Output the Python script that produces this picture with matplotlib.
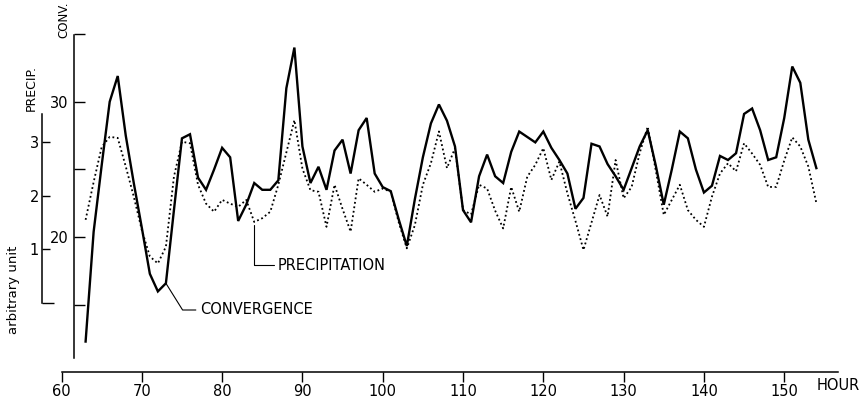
import matplotlib
matplotlib.use("Agg")
import matplotlib.pyplot as plt

# hourly series, hour 63 .. 154
hours = list(range(63, 155))

convergence = [
    12.3, 20.4, 25.3, 30.0, 31.9, 27.5, 24.0, 20.7, 17.3, 16.0,
    16.6, 22.0, 27.3, 27.6, 24.4, 23.5, 25.0, 26.6, 25.9, 21.2,
    22.4, 24.0, 23.5, 23.5, 24.2, 31.0, 34.0, 26.7, 24.0, 25.2,
    23.5, 26.4, 27.2, 24.7, 27.9, 28.8, 24.7, 23.7, 23.4, 21.3,
    19.35, 22.8, 25.9, 28.4, 29.8, 28.6, 26.7, 22.0, 21.1, 24.5,
    26.1, 24.5, 24.0, 26.3, 27.8, 27.4, 27.0, 27.8, 26.6, 25.7,
    24.7, 22.1, 22.9, 26.9, 26.7, 25.4, 24.5, 23.5, 25.1, 26.7,
    27.9, 25.3, 22.4, 25.0, 27.8, 27.3, 25.0, 23.3, 23.8, 26.0,
    25.7, 26.2, 29.1, 29.5, 27.9, 25.7, 25.9, 28.8, 32.6, 31.4,
    27.2, 25.1,
]

precipitation = [
    1.55, 2.25, 2.9, 3.09, 3.07, 2.54, 1.98, 1.36, 0.87, 0.74,
    1.05, 2.35, 3.0, 2.97, 2.2, 1.85, 1.70, 1.92, 1.85, 1.79,
    1.92, 1.51, 1.58, 1.70, 2.2, 2.8, 3.40, 2.5, 2.1, 2.07,
    1.42, 2.2, 1.75, 1.33, 2.32, 2.2, 2.07, 2.13, 2.07, 1.5,
    1.02, 1.45, 2.2, 2.6, 3.19, 2.51, 2.88, 1.73, 1.65, 2.2,
    2.13, 1.72, 1.39, 2.16, 1.70, 2.35, 2.57, 2.88, 2.29, 2.63,
    2.04, 1.53, 0.99, 1.5, 2.01, 1.61, 2.66, 1.95, 2.16, 2.79,
    3.28, 2.47, 1.64, 1.92, 2.20, 1.73, 1.55, 1.42, 1.98, 2.41,
    2.6, 2.45, 2.97, 2.78, 2.57, 2.16, 2.16, 2.65, 3.08, 2.91,
    2.54, 1.86,
]

hour_ticks = [60, 70, 80, 90, 100, 110, 120, 130, 140, 150]
conv_ticks = [15, 20, 25, 30, 35]
conv_labels = ["", "20", "", "30", ""]
precip_ticks = [1, 2, 3]
precip_labels = ["1", "2", "3"]

W, H = 861, 404

fig = plt.figure(figsize=(W / 100, H / 100), dpi=100)
fig.patch.set_facecolor("white")

# convergence axes, filling the whole canvas
ax = fig.add_axes([0, 0, 1, 1])
ax.set_xlim(52.34, 159.56)
ax.set_ylim(7.69, 37.51)
ax.patch.set_visible(False)

ax.plot(hours, convergence, color="black", lw=1.7, solid_joinstyle="miter")

for s in ["top", "right"]:
    ax.spines[s].set_visible(False)
ax.spines["left"].set_position(("data", 61.56))
ax.spines["left"].set_bounds(11.1, 34.9)
ax.spines["bottom"].set_position(("data", 10.07))
ax.spines["bottom"].set_bounds(60, 156.7)
for s in ["left", "bottom"]:
    ax.spines[s].set_linewidth(1.1)

ax.set_xticks(hour_ticks)
ax.set_xticklabels([str(h) for h in hour_ticks], fontsize=10.5)
ax.tick_params(axis="x", direction="out", length=7, width=1.0, pad=1.5)
ax.set_yticks(conv_ticks)
ax.set_yticklabels(conv_labels, fontsize=10.5)
ax.tick_params(axis="y", direction="in", length=8, width=1.0, pad=4)

# precipitation axes sharing the hour axis
ax2 = ax.twinx()
ax2.set_ylim(-1.869, 5.630)
ax2.plot(hours, precipitation, color="black", lw=1.3, linestyle=(0, (1, 1.5)))
for s in ["top", "right", "bottom"]:
    ax2.spines[s].set_visible(False)
ax2.spines["left"].set_visible(True)
ax2.spines["left"].set_position(("data", 57.53))
ax2.spines["left"].set_bounds(0, 3.52)
ax2.spines["left"].set_linewidth(1.1)
ax2.yaxis.set_ticks_position("left")
ax2.set_yticks(precip_ticks)
ax2.set_yticklabels(precip_labels, fontsize=10.5)
ax2.set_yticks([0], minor=True)
ax2.tick_params(axis="y", which="major", direction="in", length=5.5, width=1.0, pad=2)
ax2.tick_params(axis="y", which="minor", direction="in", length=8.5, width=1.0)

# axis captions
fig.text(64 / W, 1 - 19.5 / H, "CONV.", rotation=90, ha="center", va="center", fontsize=8.5)
fig.text(31 / W, 1 - 88 / H, "PRECIP.", rotation=90, ha="center", va="center", fontsize=9)
fig.text(14 / W, 1 - 290 / H, "arbitrary unit", rotation=90, ha="center", va="center", fontsize=9.5)
fig.text(817 / W, 1 - 386 / H, "HOUR", ha="left", va="center", fontsize=10.5)

# curve labels with leader lines
i_c = hours.index(73)
ax.annotate("CONVERGENCE", xy=(hours[i_c], convergence[i_c]),
            xytext=(200, H - 310), textcoords="figure pixels",
            ha="left", va="center", fontsize=10.5,
            arrowprops=dict(arrowstyle="-", color="black", lw=0.8, relpos=(0, 0.5),
                            shrinkA=1, shrinkB=0,
                            connectionstyle="angle,angleA=0,angleB=-58,rad=0"))

i_p = hours.index(84)
ax2.annotate("PRECIPITATION", xy=(hours[i_p], precipitation[i_p]),
             xytext=(278, H - 265), textcoords="figure pixels",
             ha="left", va="center", fontsize=10.5,
             arrowprops=dict(arrowstyle="-", color="black", lw=0.8, relpos=(0, 0.5),
                             shrinkA=1, shrinkB=2,
                             connectionstyle="angle,angleA=0,angleB=90,rad=0"))

fig.savefig("out.png", dpi=100)
